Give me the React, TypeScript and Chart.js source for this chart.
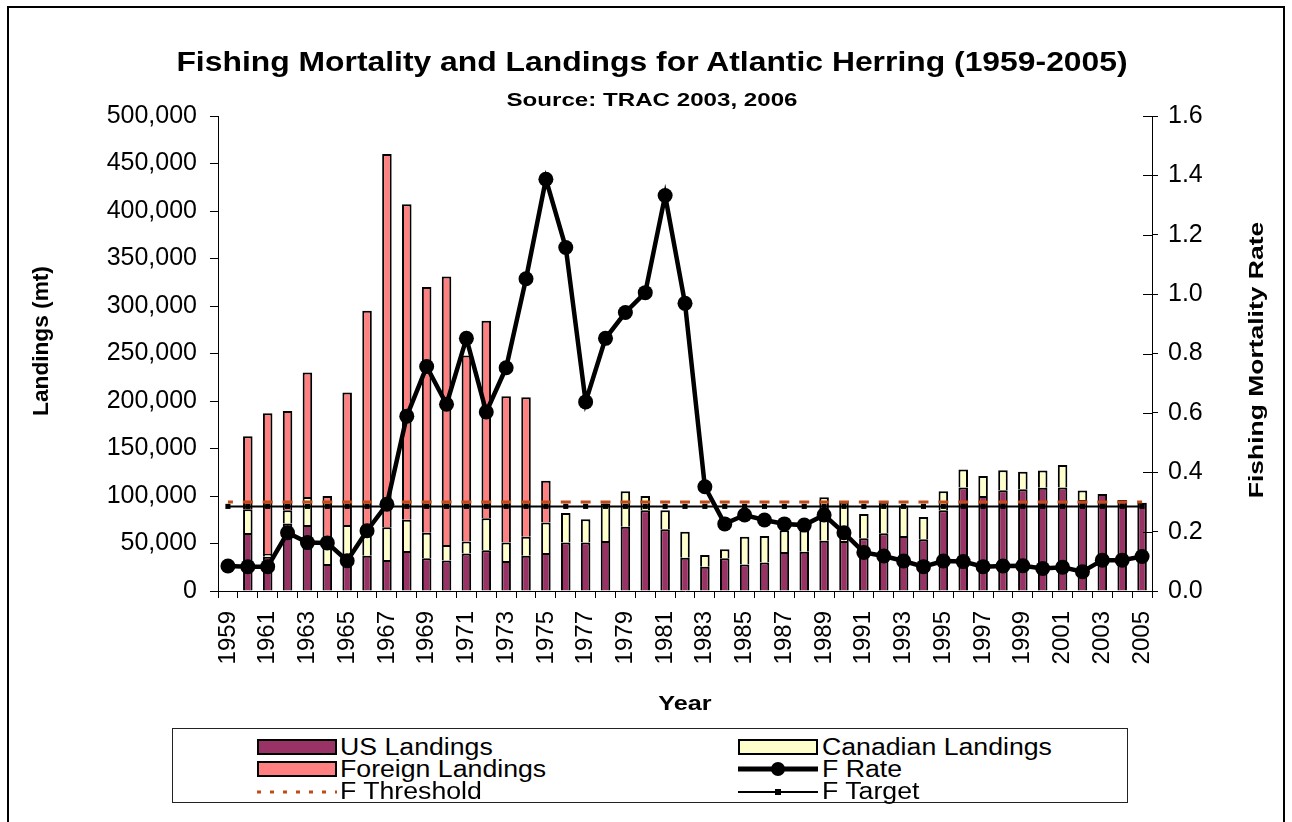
import React, { useEffect, useRef } from 'react';
import { Chart, registerables } from 'chart.js';

Chart.register(...registerables);

// ---------------- DATA ----------------
const YEARS = [
  '1959', '1960', '1961', '1962', '1963', '1964', '1965', '1966', '1967', '1968',
  '1969', '1970', '1971', '1972', '1973', '1974', '1975', '1976', '1977', '1978',
  '1979', '1980', '1981', '1982', '1983', '1984', '1985', '1986', '1987', '1988',
  '1989', '1990', '1991', '1992', '1993', '1994', '1995', '1996', '1997', '1998',
  '1999', '2000', '2001', '2002', '2003', '2004', '2005',
];

// Landings in metric tons
const US_LANDINGS = [
  null, 61000, 36000, 71000, 69500, 28500, 35000, 37000, 32600, 42000,
  34400, 32000, 39600, 43000, 31600, 37000, 40000, 51000, 51000, 52600,
  67700, 85000, 65000, 35000, 25600, 34400, 28000, 30000, 41000, 41400,
  53000, 52600, 55400, 60700, 58000, 54400, 85000, 109000, 100000, 106000,
  107000, 108800, 109000, 95800, 102000, 95800, 93000,
];

const CANADIAN_LANDINGS = [
  null, 25000, 3000, 14000, 29500, 25000, 34500, 22000, 34500, 33000,
  27000, 16400, 12400, 33500, 19400, 20000, 32000, 31000, 24400, 39400,
  37300, 15000, 20000, 27500, 12400, 9500, 29000, 28000, 23000, 23600,
  45600, 41400, 25600, 33300, 32000, 23600, 20000, 19000, 21000, 21000,
  18600, 18000, 23600, 10000, null, null, null,
];

const FOREIGN_LANDINGS = [
  null, 77000, 148000, 104500, 131000, 46500, 139500, 236000, 393000, 332000,
  258600, 282600, 196000, 208000, 154000, 147000, 44000, null, null, null,
  null, null, null, null, null, null, null, null, null, null,
  null, null, null, null, null, null, null, null, null, null,
  null, null, null, null, null, null, null,
];

const F_RATE = [
  0.084, 0.082, 0.082, 0.196, 0.163, 0.162, 0.102, 0.203, 0.292, 0.589,
  0.756, 0.629, 0.851, 0.603, 0.752, 1.052, 1.387, 1.157, 0.637, 0.851,
  0.938, 1.005, 1.332, 0.969, 0.351, 0.226, 0.256, 0.239, 0.226, 0.222,
  0.256, 0.196, 0.130, 0.118, 0.101, 0.082, 0.101, 0.099, 0.082, 0.084,
  0.085, 0.076, 0.080, 0.065, 0.104, 0.104, 0.116,
];

const F_THRESHOLD_VALUE = 0.3;
const F_TARGET_VALUE = 0.285;

const LANDINGS_AXIS = { min: 0, max: 500000, step: 50000 };
const F_AXIS = { min: 0, max: 1.6, step: 0.2 };

const TITLE = 'Fishing Mortality and Landings for Atlantic Herring (1959-2005)';
const SUBTITLE = 'Source: TRAC 2003, 2006';
const X_TITLE = 'Year';
const Y_TITLE = 'Landings (mt)';
const Y1_TITLE = 'Fishing Mortality Rate';

// ---------------- STYLE ----------------
const FONT = '"Liberation Sans", Arial, Helvetica, sans-serif';
const US_COLOR = '#993366';
const CAN_COLOR = '#FFFFCC';
const FOREIGN_COLOR = '#FF8080';
const THRESH_COLOR = '#C24A17';

const W = 1292;
const H = 822;
const PLOT_LEFT = 218;
const PLOT_RIGHT = 1152;
const PLOT_TOP = 116;
const PLOT_BOTTOM = 591;
const X_AXIS_H = 129;
const CAT_W = (PLOT_RIGHT - PLOT_LEFT) / YEARS.length;

function drawStretched(ctx: CanvasRenderingContext2D, text: string, x: number, y: number, rot: number, sx: number, font: string) {
  ctx.save();
  ctx.translate(x, y);
  ctx.rotate(rot);
  ctx.scale(sx, 1);
  ctx.font = font;
  ctx.fillStyle = '#000';
  ctx.textAlign = 'center';
  ctx.textBaseline = 'middle';
  ctx.fillText(text, 0, 0);
  ctx.restore();
}

const extrasPlugin = {
  id: 'extras',
  afterDraw(chart: any) {
    const ctx: CanvasRenderingContext2D = chart.ctx;
    const area = chart.chartArea;
    const titleFont = `bold 21px ${FONT}`;
    drawStretched(ctx, Y_TITLE, 42, 341, -Math.PI / 2, 1.03, `bold 22px ${FONT}`);
    drawStretched(ctx, Y1_TITLE, 1257, 360, -Math.PI / 2, 1.26, titleFont);
    drawStretched(ctx, X_TITLE, (area.left + area.right) / 2, 704, 0, 1.2, titleFont);
    // inner tick marks on the right axis
    const y1 = chart.scales.y1;
    ctx.save();
    ctx.strokeStyle = '#000';
    ctx.lineWidth = 1;
    ctx.beginPath();
    y1.ticks.forEach((t: any) => {
      const py = Math.round(y1.getPixelForValue(t.value)) + 0.5;
      ctx.moveTo(y1.left - 9, py);
      ctx.lineTo(y1.left, py);
    });
    ctx.stroke();
    ctx.restore();
  },
};

type LegendItem = { label: string; kind: 'box' | 'rate' | 'thresh' | 'target'; color?: string; col: number; row: number };
const LEGEND_ITEMS: LegendItem[] = [
  { label: 'US Landings', kind: 'box', color: US_COLOR, col: 0, row: 0 },
  { label: 'Canadian Landings', kind: 'box', color: CAN_COLOR, col: 1, row: 0 },
  { label: 'Foreign Landings', kind: 'box', color: FOREIGN_COLOR, col: 0, row: 1 },
  { label: 'F Rate', kind: 'rate', col: 1, row: 1 },
  { label: 'F Threshold', kind: 'thresh', col: 0, row: 2 },
  { label: 'F Target', kind: 'target', col: 1, row: 2 },
];

const LEG_BOX = { left: 172, top: 728, width: 956, height: 75 };
const LEG_COL_SW = [256, 737];
const LEG_COL_TX = [339, 821];
const LEG_ROW = [746, 768.3, 790.7];
const SW_W = 80;

function Swatch({ item }: { item: LegendItem }) {
  const x = LEG_COL_SW[item.col] - LEG_BOX.left;
  const cy = LEG_ROW[item.row] - LEG_BOX.top;
  const style: React.CSSProperties = { position: 'absolute', left: x, top: cy - 10, overflow: 'visible' };
  return (
    <svg width={SW_W} height={20} style={style}>
      {item.kind === 'box' && (
        <rect x={1} y={3} width={SW_W - 2} height={14} fill={item.color} stroke="#000" strokeWidth={2} />
      )}
      {item.kind === 'rate' && (
        <g>
          <line x1={0} y1={10} x2={SW_W} y2={10} stroke="#000" strokeWidth={5} />
          <circle cx={SW_W / 2} cy={10} r={7} fill="#000" />
        </g>
      )}
      {item.kind === 'thresh' && (
        <line x1={0} y1={10} x2={SW_W} y2={10} stroke={THRESH_COLOR} strokeWidth={3} strokeDasharray="4 9" />
      )}
      {item.kind === 'target' && (
        <g>
          <line x1={0} y1={10} x2={SW_W} y2={10} stroke="#000" strokeWidth={2} />
          <rect x={SW_W / 2 - 3} y={7} width={6} height={6} fill="#000" />
        </g>
      )}
    </svg>
  );
}

export default function App() {
  const canvasRef = useRef<HTMLCanvasElement | null>(null);

  useEffect(() => {
    const canvas = canvasRef.current;
    if (!canvas) return;
    Chart.defaults.font.family = FONT;
    Chart.defaults.color = '#000';

    const chart = new Chart(canvas, {
      type: 'bar',
      data: {
        labels: YEARS,
        datasets: [
          {
            type: 'line', label: 'F Rate', data: F_RATE, yAxisID: 'y1', order: 1,
            borderColor: '#000', borderWidth: 4.5, backgroundColor: '#000',
            pointRadius: 7.5, pointBackgroundColor: '#000', pointBorderWidth: 0, tension: 0, fill: false,
          } as any,
          {
            type: 'line', label: 'F Target', data: YEARS.map(() => F_TARGET_VALUE), yAxisID: 'y1', order: 2,
            borderColor: '#000', borderWidth: 2, backgroundColor: '#000',
            pointStyle: 'rect', pointRadius: 3.6, pointBackgroundColor: '#000', pointBorderWidth: 0, fill: false,
          } as any,
          {
            type: 'line', label: 'F Threshold', data: YEARS.map(() => F_THRESHOLD_VALUE), yAxisID: 'y1', order: 3,
            borderColor: THRESH_COLOR, borderWidth: 3, borderDash: [10, CAT_W - 10], borderDashOffset: 5,
            pointRadius: 0, fill: false,
          } as any,
          {
            type: 'bar', label: 'US Landings', data: US_LANDINGS, yAxisID: 'y', stack: 'land', order: 10,
            backgroundColor: US_COLOR, borderColor: '#000', borderWidth: 2,
            barPercentage: 0.48, categoryPercentage: 1,
          } as any,
          {
            type: 'bar', label: 'Canadian Landings', data: CANADIAN_LANDINGS, yAxisID: 'y', stack: 'land', order: 10,
            backgroundColor: CAN_COLOR, borderColor: '#000', borderWidth: 2,
            barPercentage: 0.48, categoryPercentage: 1,
          } as any,
          {
            type: 'bar', label: 'Foreign Landings', data: FOREIGN_LANDINGS, yAxisID: 'y', stack: 'land', order: 10,
            backgroundColor: FOREIGN_COLOR, borderColor: '#000', borderWidth: 2,
            barPercentage: 0.48, categoryPercentage: 1,
          } as any,
        ],
      },
      options: {
        responsive: false,
        animation: false,
        events: [],
        layout: { padding: { left: 0, right: 0, top: PLOT_TOP, bottom: H - PLOT_BOTTOM - X_AXIS_H } },
        plugins: {
          legend: { display: false },
          title: { display: false },
          tooltip: { enabled: false },
        },
        scales: {
          x: {
            stacked: true,
            offset: true,
            grid: { display: true, drawOnChartArea: false, drawTicks: true, tickLength: 7, color: '#000', offset: true },
            border: { display: true, color: '#000', width: 1 },
            ticks: {
              autoSkip: false, maxRotation: 90, minRotation: 90, padding: 13, color: '#000',
              font: { size: 24, family: FONT },
              callback: function (this: any, v: any, i: number) { return i % 2 === 0 ? this.getLabelForValue(v) : ''; },
            },
            afterFit: (s: any) => { s.height = X_AXIS_H; },
          },
          y: {
            position: 'left',
            stacked: true,
            min: LANDINGS_AXIS.min,
            max: LANDINGS_AXIS.max,
            grid: { display: true, drawOnChartArea: false, drawTicks: true, tickLength: 8, color: '#000' },
            border: { display: true, color: '#000', width: 1 },
            ticks: {
              stepSize: LANDINGS_AXIS.step, padding: 13, color: '#000', font: { size: 25, family: FONT },
              callback: (v: any) => Number(v).toLocaleString('en-US'),
            },
            afterFit: (s: any) => { s.width = PLOT_LEFT; },
          },
          y1: {
            position: 'right',
            stacked: false,
            min: F_AXIS.min,
            max: F_AXIS.max,
            grid: { display: true, drawOnChartArea: false, drawTicks: true, tickLength: 6, color: '#000' },
            border: { display: true, color: '#000', width: 1 },
            ticks: {
              stepSize: F_AXIS.step, padding: 10, color: '#000', font: { size: 25, family: FONT },
              callback: (v: any) => Number(v).toFixed(1),
            },
            afterFit: (s: any) => { s.width = W - PLOT_RIGHT; },
          },
        },
      } as any,
      plugins: [extrasPlugin],
    });

    return () => chart.destroy();
  }, []);

  return (
    <div style={{ position: 'fixed', left: 0, top: 0, width: W, height: H, background: '#fff', fontFamily: FONT }}>
      <div style={{ position: 'absolute', left: 7, top: 6, width: 1274, height: 900, border: '2px solid #000' }} />
      <canvas ref={canvasRef} width={W} height={H} style={{ position: 'absolute', left: 0, top: 0, width: W, height: H }} />
      <div style={{ position: 'absolute', left: 651.5, top: 49, fontSize: 27, lineHeight: '27px', fontWeight: 'bold', whiteSpace: 'nowrap', transform: 'translateX(-50%) scaleX(1.18)', color: '#000' }}>
        {TITLE}
      </div>
      <div style={{ position: 'absolute', left: 652, top: 90, fontSize: 19, lineHeight: '19px', fontWeight: 'bold', whiteSpace: 'nowrap', transform: 'translateX(-50%) scaleX(1.27)', color: '#000' }}>
        {SUBTITLE}
      </div>
      <div style={{ position: 'absolute', left: LEG_BOX.left, top: LEG_BOX.top, width: LEG_BOX.width, height: LEG_BOX.height, border: '1px solid #222', boxSizing: 'border-box', background: '#fff' }}>
        {LEGEND_ITEMS.map((it) => (
          <React.Fragment key={it.label}>
            <Swatch item={it} />
            <span style={{ position: 'absolute', left: LEG_COL_TX[it.col] - LEG_BOX.left, top: LEG_ROW[it.row] - LEG_BOX.top - 11.24, fontSize: 23, lineHeight: '23px', whiteSpace: 'nowrap', transform: 'scaleX(1.16)', transformOrigin: 'left center', color: '#000' }}>
              {it.label}
            </span>
          </React.Fragment>
        ))}
      </div>
    </div>
  );
}
